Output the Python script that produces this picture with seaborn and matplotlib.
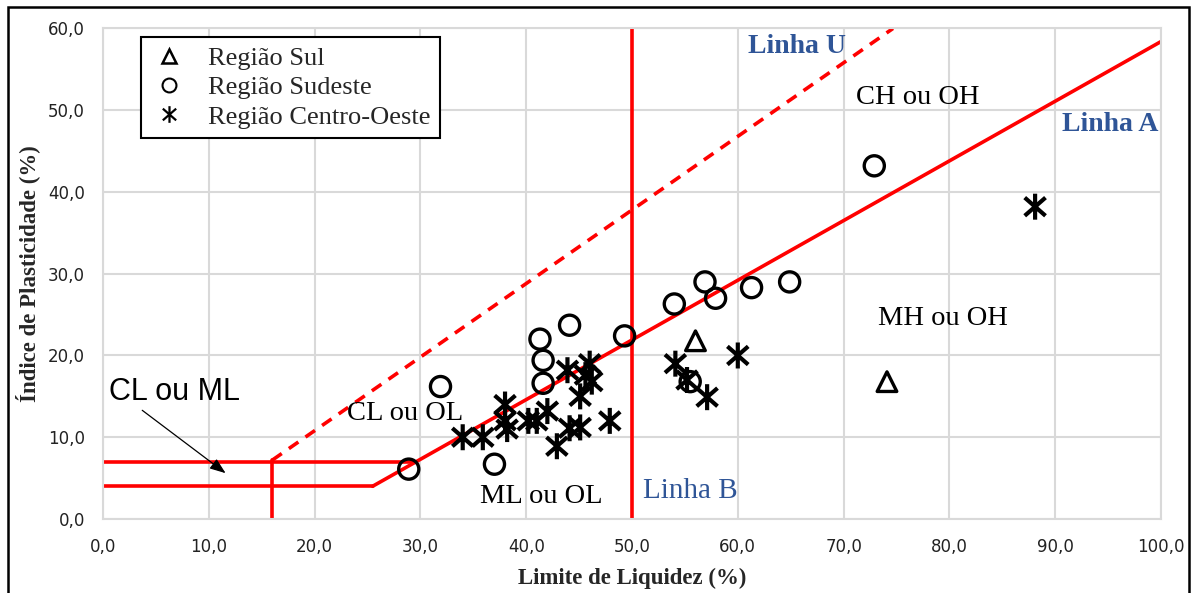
import matplotlib
matplotlib.use("Agg")
import matplotlib.pyplot as plt
import seaborn as sns
import numpy as np
import pandas as pd
from matplotlib.path import Path
from matplotlib.lines import Line2D
from matplotlib.patches import Rectangle

# ---------------- data ----------------
sul_ll = [56.0, 74.1]
sul_ip = [21.8, 16.8]

sudeste_ll = [28.9, 31.9, 37.0, 41.3, 41.6, 41.6, 44.1, 49.3, 54.0, 55.5, 56.9, 57.9, 61.3, 64.9, 72.9]
sudeste_ip = [6.1, 16.2, 6.7, 22.0, 19.4, 16.6, 23.7, 22.4, 26.3, 16.8, 29.0, 27.0, 28.3, 29.0, 43.2]

co_ll = [34.0, 35.9, 38.0, 38.0, 38.2, 40.2, 41.0, 42.0, 42.9, 44.1, 45.1, 43.9, 46.0, 46.2, 45.6, 45.1,
         47.9, 54.1, 55.2, 57.1, 60.0, 88.1]
co_ip = [10.0, 10.0, 14.0, 12.0, 11.0, 12.0, 12.0, 13.2, 8.9, 11.1, 11.2, 18.2, 19.0, 16.8, 17.6, 15.0,
         12.0, 19.0, 17.0, 14.9, 20.0, 38.2]

region_names = ["Região Sul", "Região Sudeste", "Região Centro-Oeste"]

x_ticks = [0, 10, 20, 30, 40, 50, 60, 70, 80, 90, 100]
y_ticks = [0, 10, 20, 30, 40, 50, 60]

# Casagrande chart lines
linha_a_ll = [25.48, 100.0]
linha_u_ll = [16.0, 74.67]
hor4_ll = [0.0, 25.48]
hor7_ll = [0.0, 29.59]

df = pd.DataFrame({
    "LL": sul_ll + sudeste_ll + co_ll,
    "IP": sul_ip + sudeste_ip + co_ip,
    "Regiao": [region_names[0]] * len(sul_ll) + [region_names[1]] * len(sudeste_ll) + [region_names[2]] * len(co_ll),
})

# asterisk marker (vertical bar + X)
ast = Path([(0, -1), (0, 1), (-0.8, -0.7), (0.8, 0.7), (-0.8, 0.7), (0.8, -0.7)],
           [Path.MOVETO, Path.LINETO, Path.MOVETO, Path.LINETO, Path.MOVETO, Path.LINETO])

sns.set_theme(style="white")
plt.rcParams["font.family"] = ["DejaVu Sans"]

fig = plt.figure(figsize=(11.92, 5.93), dpi=100)
ax = fig.add_axes([0.0864, 0.1248, 0.974 - 0.0864, 0.952 - 0.1248])

red = "#FF0000"
lw_red = 2.6

# reference lines
a_ll = np.array(linha_a_ll)
ax.plot(a_ll, 0.73 * (a_ll - 20), color=red, lw=lw_red, zorder=2)
u_ll = np.array(linha_u_ll)
ax.plot(u_ll, 0.9 * (u_ll - 8), color=red, lw=lw_red, ls=(0, (3.2, 2.4)), zorder=2)
ax.plot(hor4_ll, [4, 4], color=red, lw=lw_red, zorder=2)
ax.plot(hor7_ll, [7, 7], color=red, lw=lw_red, zorder=2)
ax.plot([16, 16], [0, 0.9 * (16 - 8)], color=red, lw=lw_red, zorder=2)
ax.plot([50, 50], [0, 60], color=red, lw=lw_red, zorder=2)

# scatter points
marker_map = {region_names[0]: "^", region_names[1]: "o", region_names[2]: ast}
size_map = {region_names[0]: 200, region_names[1]: 210, region_names[2]: 350}
lw_map = {region_names[0]: 2.4, region_names[1]: 2.4, region_names[2]: 3.0}
for name in region_names:
    sub = df[df["Regiao"] == name]
    sns.scatterplot(data=sub, x="LL", y="IP", marker=marker_map[name], s=size_map[name],
                    facecolors="none", edgecolors="black", linewidths=lw_map[name], ax=ax, zorder=4,
                    legend=False)

ax.set_xlim(0, 100)
ax.set_ylim(0, 60)
ax.set_xticks(x_ticks)
ax.set_yticks(y_ticks)
ax.set_xticklabels([f"{v:.1f}".replace(".", ",") for v in x_ticks])
ax.set_yticklabels([f"{v:.1f}".replace(".", ",") for v in y_ticks])
ax.tick_params(axis="x", length=0, pad=14, labelsize=12, colors="#222222")
ax.tick_params(axis="y", length=0, pad=13, labelsize=12, colors="#222222")
ax.grid(True, color="#d9d9d9", lw=1.5)
for sp in ax.spines.values():
    sp.set_color("#d9d9d9")
    sp.set_linewidth(1.5)

serif = ["Liberation Serif", "DejaVu Serif"]
ax.set_xlabel("Limite de Liquidez (%)", fontsize=16.5, fontweight="bold", family=serif, labelpad=8)
ax.set_ylabel("Índice de Plasticidade (%)", fontsize=16.5, fontweight="bold", family=serif, labelpad=6)

blue = "#2F5597"
ax.text(65.6, 57.8, "Linha U", color=blue, fontsize=20, fontweight="bold", family=serif, ha="center", va="center")
ax.text(95.2, 48.2, "Linha A", color=blue, fontsize=20, fontweight="bold", family=serif, ha="center", va="center")
ax.text(55.5, 3.4, "Linha B", color=blue, fontsize=21, family=serif, ha="center", va="center")
ax.text(77.0, 51.5, "CH ou OH", color="black", fontsize=20.5, family=serif, ha="center", va="center")
ax.text(79.4, 24.5, "MH ou OH", color="black", fontsize=20.5, family=serif, ha="center", va="center")
ax.text(28.6, 12.9, "CL ou OL", color="black", fontsize=20.5, family=serif, ha="center", va="center")
ax.text(41.4, 2.8, "ML ou OL", color="black", fontsize=20.5, family=serif, ha="center", va="center")
ax.annotate("", xy=(11.8, 5.4), xytext=(3.5, 13.5),
            arrowprops=dict(arrowstyle="-|>,head_length=0.8,head_width=0.3", color="black", lw=0.9))
ax.text(6.8, 15.5, "CL ou ML", color="black", fontsize=22, family=["Liberation Sans", "DejaVu Sans"],
        ha="center", va="center")

handles = [
    Line2D([], [], ls="none", marker="^", markersize=10, markerfacecolor="none", markeredgecolor="black", markeredgewidth=1.8),
    Line2D([], [], ls="none", marker="o", markersize=10, markerfacecolor="none", markeredgecolor="black", markeredgewidth=1.5),
    Line2D([], [], ls="none", marker=ast, markersize=12, markerfacecolor="none", markeredgecolor="black", markeredgewidth=1.6),
]
leg = ax.legend(handles, region_names, loc="upper left", bbox_to_anchor=(0.036, 0.982), borderaxespad=0,
                frameon=True, fancybox=False, edgecolor="black", framealpha=1,
                prop={"family": serif, "size": 19}, handletextpad=0.8, labelspacing=0.22,
                borderpad=0.35, handlelength=1.4)
leg.get_frame().set_linewidth(1.5)
leg.set_zorder(6)

# outer frame
fig.patches.append(Rectangle((0.0067, -0.02), 0.9975 - 0.0067, 0.988 + 0.02, transform=fig.transFigure,
                             fill=False, edgecolor="black", lw=1.8))

fig.savefig("out.png", dpi=100)
